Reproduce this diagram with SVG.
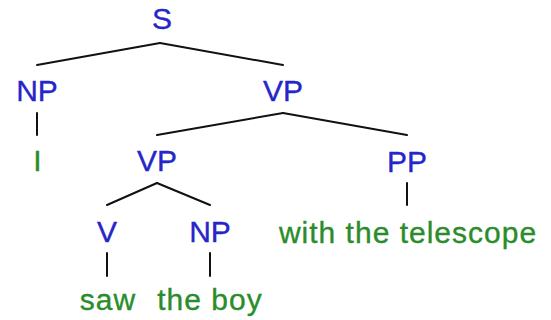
<svg xmlns="http://www.w3.org/2000/svg" width="551" height="320" viewBox="0 0 551 320">
  <style>
    .cat { font-family: "Liberation Sans", Arial, sans-serif; font-size: 30px; fill: #2626c8; stroke: #2626c8; stroke-width: 0.35; text-anchor: middle; }
    .word { font-family: "Liberation Sans", Arial, sans-serif; font-size: 30px; fill: #2a8c2a; stroke: #2a8c2a; stroke-width: 0.35; text-anchor: middle; letter-spacing: 1px; }
    .edge { stroke: #111; stroke-width: 2; fill: none; stroke-linecap: round; }
  </style>
  <rect width="551" height="320" fill="#ffffff"/>
  <g id="connectors">
    <line class="edge" x1="160" y1="43" x2="37" y2="65"/>
    <line class="edge" x1="160" y1="43" x2="283" y2="65" stroke-width="1.6"/>
    <line class="edge" x1="37" y1="113" x2="37" y2="135" stroke-width="1.6"/>
    <line class="edge" x1="283" y1="113" x2="157" y2="135"/>
    <line class="edge" x1="283" y1="113" x2="407" y2="135"/>
    <line class="edge" x1="157" y1="183" x2="107" y2="205"/>
    <line class="edge" x1="157" y1="183" x2="210" y2="205"/>
    <line class="edge" x1="407" y1="183" x2="407" y2="205" stroke-width="1.6"/>
    <line class="edge" x1="107" y1="253" x2="107" y2="276" stroke-width="1.6"/>
    <line class="edge" x1="210" y1="253" x2="210" y2="276" stroke-width="1.6"/>
  </g>
  <g id="S"><text class="cat" x="162" y="29">S</text></g>
  <g id="NP1"><text class="cat" x="37" y="101">NP</text></g>
  <g id="VP1"><text class="cat" x="283" y="101">VP</text></g>
  <g id="I"><text class="word" x="38" y="171">I</text></g>
  <g id="VP2"><text class="cat" x="157" y="171">VP</text></g>
  <g id="PP"><text class="cat" x="407" y="172">PP</text></g>
  <g id="telescope"><text class="word" x="408" y="243">with the telescope</text></g>
  <g id="V"><text class="cat" x="107" y="242">V</text></g>
  <g id="NP2"><text class="cat" x="210" y="242">NP</text></g>
  <g id="saw"><text class="word" x="108" y="310">saw</text></g>
  <g id="boy"><text class="word" x="210" y="310">the boy</text></g>
</svg>
